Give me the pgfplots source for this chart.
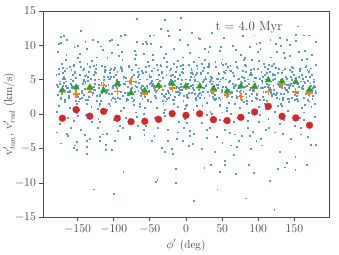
\documentclass[border=0pt]{standalone}
\usepackage{pgfplots}
\pgfplotsset{compat=1.18}
\usepackage{pgfplotstable}
\definecolor{cblue}{HTML}{1F77B4}
\definecolor{corange}{HTML}{FF7F0E}
\definecolor{cgreen}{HTML}{2CA02C}
\definecolor{cred}{HTML}{D62728}
\definecolor{txt}{HTML}{404040}

\pgfplotstableread[row sep=\\]{
x y\\
-179.6 4.3\\ -171.3 6.8\\ -176.9 1.2\\ -173.8 3.6\\ -178.2 9.1\\ -170.5 5.2\\ -175.4 -1.4\\ -177.7 2.9\\ -172.6 7.4\\ -174.5 4.8\\ -179.1 0.4\\ -171.9 3.1\\ -176.2 5.9\\ -173.1 2.2\\ -178.7 -2.6\\ -171.0 6.1\\ -175.8 10.3\\ -177.2 4.0\\ -172.2 3.0\\ -174.9 4.5\\ -179.8 5.8\\ -173.5 2.4\\ -176.5 6.6\\ -170.2 4.1\\
-164.7 3.9\\ -168.9 5.5\\ -162.3 2.4\\ -166.6 7.9\\ -160.8 0.9\\ -169.4 4.6\\ -164.0 -0.5\\ -167.4 6.3\\ -161.6 3.3\\ -166.0 8.6\\ -168.4 1.8\\ -160.3 5.1\\ -164.2 -3.1\\ -167.0 4.2\\ -162.9 2.7\\ -169.9 11.4\\ -165.1 6.7\\ -161.1 3.5\\ -168.0 5.2\\ -163.3 3.3\\ -166.1 4.8\\ -160.6 6.9\\ -168.6 2.1\\ -164.4 3.9\\
-157.5 5.7\\ -153.0 2.0\\ -159.7 4.4\\ -150.4 8.2\\ -155.6 -0.9\\ -153.6 3.0\\ -159.0 6.5\\ -151.7 1.5\\ -156.4 4.9\\ -154.8 9.8\\ -150.1 2.6\\ -159.3 -1.9\\ -152.5 5.3\\ -157.9 3.8\\ -155.3 7.1\\ -151.4 0.2\\ -158.1 4.1\\ -153.9 6.0\\ -156.7 4.0\\ -150.9 2.7\\ -154.1 6.2\\ -159.5 5.1\\ -152.8 3.6\\ -155.9 7.2\\
-142.0 2.8\\ -146.3 6.9\\ -143.7 4.5\\ -149.2 0.7\\ -145.0 3.4\\ -147.8 8.8\\ -140.7 5.6\\ -145.5 -2.2\\ -148.5 1.9\\ -142.4 4.7\\ -146.8 7.6\\ -144.3 3.2\\ -150.0 -0.2\\ -141.2 5.0\\ -147.1 2.3\\ -143.2 6.4\\ -145.7 12.1\\ -140.9 3.7\\ -148.8 3.0\\ -142.7 4.5\\ -147.6 5.8\\ -144.6 2.4\\ -141.5 6.6\\ -149.4 4.1\\
-139.6 4.6\\ -131.3 1.1\\ -136.9 7.3\\ -133.8 3.9\\ -138.2 5.8\\ -130.5 -1.1\\ -135.4 2.5\\ -137.7 9.5\\ -132.6 4.0\\ -134.5 6.2\\ -139.1 0.0\\ -131.9 3.3\\ -136.2 5.4\\ -133.1 -3.6\\ -138.7 2.1\\ -131.0 7.8\\ -135.8 4.9\\ -137.2 1.6\\ -132.2 5.2\\ -134.9 3.3\\ -139.8 4.8\\ -133.5 6.9\\ -136.5 2.1\\ -130.2 3.9\\
-124.7 6.6\\ -128.9 3.1\\ -122.3 0.8\\ -126.6 5.0\\ -120.8 4.3\\ -129.4 10.8\\ -124.0 2.0\\ -127.4 7.0\\ -121.6 -0.7\\ -126.0 3.6\\ -128.4 5.7\\ -120.3 1.3\\ -124.2 8.3\\ -127.0 4.4\\ -122.9 -2.0\\ -129.9 2.9\\ -125.1 6.1\\ -121.1 3.8\\ -128.0 4.0\\ -123.3 2.7\\ -126.1 6.2\\ -120.6 5.1\\ -128.6 3.6\\ -124.4 7.2\\
-117.5 4.6\\ -113.0 6.5\\ -119.7 1.5\\ -110.4 3.3\\ -115.6 9.4\\ -113.6 5.0\\ -119.0 -1.1\\ -111.7 3.2\\ -116.4 7.1\\ -114.8 4.5\\ -110.1 0.7\\ -119.3 2.8\\ -112.5 6.2\\ -117.9 2.0\\ -115.3 -2.9\\ -111.4 6.4\\ -118.1 9.9\\ -113.9 4.3\\ -116.7 3.2\\ -110.9 4.2\\ -114.1 5.5\\ -119.5 2.7\\ -112.8 6.9\\ -115.9 3.8\\
-102.0 4.2\\ -106.3 5.2\\ -103.7 2.1\\ -109.2 8.2\\ -105.0 1.2\\ -107.8 4.3\\ -100.7 -0.8\\ -105.5 6.0\\ -108.5 3.6\\ -102.4 8.9\\ -106.8 1.5\\ -104.3 5.4\\ -110.0 -2.8\\ -101.2 3.9\\ -107.1 3.0\\ -103.2 10.9\\ -105.7 6.4\\ -100.9 3.8\\ -108.8 5.5\\ -102.7 3.0\\ -107.6 5.1\\ -104.6 6.6\\ -101.5 2.4\\ -109.4 3.6\\
-99.6 5.4\\ -91.3 2.3\\ -96.9 4.1\\ -93.8 8.5\\ -98.2 -0.6\\ -90.5 3.3\\ -95.4 6.2\\ -97.7 1.8\\ -92.6 4.6\\ -94.5 10.1\\ -99.1 2.3\\ -91.9 -1.6\\ -96.2 5.0\\ -93.1 4.1\\ -98.7 6.8\\ -91.0 0.5\\ -95.8 4.4\\ -97.2 5.7\\ -92.2 4.3\\ -94.9 2.4\\ -99.8 6.5\\ -93.5 4.8\\ -96.5 3.9\\ -90.2 6.9\\
-84.7 3.1\\ -88.9 6.6\\ -82.3 4.8\\ -86.6 1.0\\ -80.8 3.1\\ -89.4 9.1\\ -84.0 5.3\\ -87.4 -1.9\\ -81.6 2.2\\ -86.0 4.4\\ -88.4 7.9\\ -80.3 2.9\\ -84.2 -0.5\\ -87.0 5.3\\ -82.9 2.0\\ -89.9 6.7\\ -85.1 11.6\\ -81.1 4.0\\ -88.0 2.7\\ -83.3 4.8\\ -86.1 5.5\\ -80.6 2.1\\ -88.6 6.3\\ -84.4 4.4\\
-77.5 4.9\\ -73.0 1.4\\ -79.7 7.0\\ -70.4 4.2\\ -75.6 5.5\\ -73.6 -0.8\\ -79.0 2.8\\ -71.7 9.2\\ -76.4 3.7\\ -74.8 6.5\\ -70.1 0.3\\ -79.3 3.0\\ -72.5 5.7\\ -77.9 -3.3\\ -75.3 2.4\\ -71.4 8.1\\ -78.1 4.6\\ -73.9 1.9\\ -76.7 5.2\\ -70.9 3.3\\ -74.1 4.8\\ -79.5 6.9\\ -72.8 2.1\\ -75.9 3.9\\
-62.0 6.3\\ -66.3 3.4\\ -63.7 1.1\\ -69.2 4.7\\ -65.0 4.6\\ -67.8 10.5\\ -60.7 2.3\\ -65.5 6.7\\ -68.5 -0.4\\ -62.4 3.9\\ -66.8 5.4\\ -64.3 1.6\\ -70.0 8.6\\ -61.2 4.1\\ -67.1 -1.7\\ -63.2 3.2\\ -65.7 5.8\\ -60.9 4.1\\ -68.8 4.0\\ -62.7 2.7\\ -67.6 6.2\\ -64.6 5.1\\ -61.5 3.6\\ -69.4 7.2\\
-59.6 4.1\\ -51.3 7.1\\ -56.9 0.9\\ -53.8 3.9\\ -58.2 8.8\\ -50.5 5.5\\ -55.4 -1.7\\ -57.7 2.6\\ -52.6 7.7\\ -54.5 5.1\\ -59.1 0.1\\ -51.9 3.4\\ -56.2 6.2\\ -53.1 1.9\\ -58.7 -2.3\\ -51.0 5.8\\ -55.8 10.6\\ -57.2 3.7\\ -52.2 3.3\\ -54.9 4.2\\ -59.8 6.1\\ -53.5 2.1\\ -56.5 6.9\\ -50.2 4.4\\
-44.7 3.9\\ -48.9 5.5\\ -42.3 2.4\\ -46.6 7.9\\ -40.8 0.9\\ -49.4 4.6\\ -44.0 -0.5\\ -47.4 6.3\\ -41.6 3.3\\ -46.0 8.6\\ -48.4 1.8\\ -40.3 5.1\\ -44.2 -3.1\\ -47.0 4.2\\ -42.9 2.7\\ -49.9 11.4\\ -45.1 6.7\\ -41.1 3.5\\ -48.0 4.9\\ -43.3 3.6\\ -46.1 4.5\\ -40.6 7.2\\ -48.6 1.8\\ -44.4 4.2\\
-37.5 5.7\\ -33.0 2.0\\ -39.7 4.4\\ -30.4 8.2\\ -35.6 -0.9\\ -33.6 3.0\\ -39.0 6.5\\ -31.7 1.5\\ -36.4 4.9\\ -34.8 9.8\\ -30.1 2.6\\ -39.3 -1.9\\ -32.5 5.3\\ -37.9 3.8\\ -35.3 7.1\\ -31.4 0.2\\ -38.1 4.1\\ -33.9 6.0\\ -36.7 4.0\\ -30.9 2.7\\ -34.1 6.2\\ -39.5 5.1\\ -32.8 3.6\\ -35.9 7.2\\
-22.0 2.8\\ -26.3 6.9\\ -23.7 4.5\\ -29.2 0.7\\ -25.0 3.4\\ -27.8 8.8\\ -20.7 5.6\\ -25.5 -2.2\\ -28.5 1.9\\ -22.4 4.7\\ -26.8 7.6\\ -24.3 3.2\\ -30.0 -0.2\\ -21.2 5.0\\ -27.1 2.3\\ -23.2 6.4\\ -25.7 12.1\\ -20.9 3.7\\ -28.8 3.0\\ -22.7 4.5\\ -27.6 5.8\\ -24.6 2.4\\ -21.5 6.6\\ -29.4 4.1\\
-19.6 4.6\\ -11.3 1.1\\ -16.9 7.3\\ -13.8 3.9\\ -18.2 5.8\\ -10.5 -1.1\\ -15.4 2.5\\ -17.7 9.5\\ -12.6 4.0\\ -14.5 6.2\\ -19.1 0.0\\ -11.9 3.3\\ -16.2 5.4\\ -13.1 -3.6\\ -18.7 2.1\\ -11.0 7.8\\ -15.8 4.9\\ -17.2 1.6\\ -12.2 5.2\\ -14.9 3.3\\ -19.8 4.8\\ -13.5 6.9\\ -16.5 2.1\\ -10.2 3.9\\
-4.7 6.6\\ -8.9 3.1\\ -2.3 0.8\\ -6.6 5.0\\ -0.8 4.3\\ -9.4 10.8\\ -4.0 2.0\\ -7.4 7.0\\ -1.6 -0.7\\ -6.0 3.6\\ -8.4 5.7\\ -0.3 1.3\\ -4.2 8.3\\ -7.0 4.4\\ -2.9 -2.0\\ -9.9 2.9\\ -5.1 6.1\\ -1.1 3.8\\ -8.0 4.0\\ -3.3 2.7\\ -6.1 6.2\\ -0.6 5.1\\ -8.6 3.6\\ -4.4 7.2\\
2.5 4.5\\ 7.0 6.6\\ 0.3 1.4\\ 9.6 3.8\\ 4.4 8.9\\ 6.4 5.4\\ 1.0 -1.2\\ 8.3 3.1\\ 3.6 7.2\\ 5.2 5.0\\ 9.9 0.6\\ 0.7 2.9\\ 7.5 6.1\\ 2.1 2.4\\ 4.7 -2.4\\ 8.6 5.9\\ 1.9 10.1\\ 6.1 4.2\\ 3.3 3.2\\ 9.1 4.3\\ 5.9 6.0\\ 0.5 2.6\\ 7.2 6.4\\ 4.1 3.9\\
18.0 3.6\\ 13.7 5.8\\ 16.3 2.7\\ 10.8 7.6\\ 15.0 1.2\\ 12.2 4.9\\ 19.3 -0.2\\ 14.5 6.0\\ 11.5 3.0\\ 17.6 8.3\\ 13.2 2.1\\ 15.7 4.8\\ 10.0 -2.8\\ 18.8 4.5\\ 12.9 2.4\\ 16.8 11.1\\ 14.3 7.0\\ 19.1 3.2\\ 11.2 5.5\\ 17.3 3.0\\ 12.4 5.1\\ 15.4 6.6\\ 18.5 2.4\\ 10.6 3.6\\
20.4 6.0\\ 28.7 1.7\\ 23.1 4.7\\ 26.2 7.9\\ 21.8 -1.2\\ 29.5 3.3\\ 24.6 6.8\\ 22.3 1.2\\ 27.4 5.2\\ 25.5 9.5\\ 20.9 2.9\\ 28.1 -2.2\\ 23.8 5.0\\ 26.9 4.1\\ 21.3 7.4\\ 29.0 -0.1\\ 24.2 3.8\\ 22.8 6.3\\ 27.8 4.3\\ 25.1 2.4\\ 20.2 5.9\\ 26.5 5.4\\ 23.5 3.3\\ 29.8 6.9\\
35.3 3.1\\ 31.1 7.2\\ 37.7 4.2\\ 33.4 0.4\\ 39.2 3.7\\ 30.6 9.1\\ 36.0 5.3\\ 32.6 -1.9\\ 38.4 2.2\\ 34.0 5.0\\ 31.6 7.3\\ 39.7 2.9\\ 35.8 0.1\\ 33.0 4.7\\ 37.1 2.6\\ 30.1 6.1\\ 34.9 11.8\\ 38.9 4.0\\ 32.0 2.7\\ 36.7 4.8\\ 33.9 5.5\\ 39.4 2.1\\ 31.4 6.9\\ 35.6 4.4\\
42.5 4.3\\ 47.0 1.4\\ 40.3 7.6\\ 49.6 3.6\\ 44.4 6.1\\ 46.4 -0.8\\ 41.0 2.2\\ 48.3 9.8\\ 43.6 4.3\\ 45.2 5.9\\ 49.9 0.3\\ 40.7 3.6\\ 47.5 5.1\\ 42.1 -3.3\\ 44.7 2.4\\ 48.6 7.5\\ 41.9 5.2\\ 46.1 1.3\\ 43.3 5.2\\ 49.1 3.3\\ 45.9 4.8\\ 40.5 6.9\\ 47.2 2.1\\ 44.1 3.9\\
58.0 6.9\\ 53.7 2.8\\ 56.3 0.5\\ 50.8 5.3\\ 55.0 4.0\\ 52.2 11.1\\ 59.3 1.7\\ 54.5 7.3\\ 51.5 -1.0\\ 57.6 3.3\\ 53.2 6.0\\ 55.7 1.0\\ 50.0 8.0\\ 58.8 4.7\\ 52.9 -2.3\\ 56.8 2.6\\ 54.3 6.4\\ 59.1 3.5\\ 51.2 4.0\\ 57.3 2.7\\ 52.4 6.2\\ 55.4 5.1\\ 58.5 3.6\\ 50.6 7.2\\
65.3 4.0\\ 61.1 7.0\\ 67.7 1.5\\ 63.4 3.3\\ 69.2 9.4\\ 60.6 4.9\\ 66.0 -1.1\\ 62.6 3.2\\ 68.4 7.7\\ 64.0 4.5\\ 61.6 0.1\\ 69.7 3.4\\ 65.8 5.6\\ 63.0 2.5\\ 67.1 -2.9\\ 60.1 6.4\\ 64.9 10.0\\ 68.9 4.3\\ 62.0 3.3\\ 66.7 4.2\\ 63.9 6.1\\ 69.4 2.7\\ 61.4 6.3\\ 65.6 3.8\\
72.5 3.9\\ 77.0 5.5\\ 70.3 2.4\\ 79.6 7.9\\ 74.4 0.9\\ 76.4 4.6\\ 71.0 -0.5\\ 78.3 6.3\\ 73.6 3.3\\ 75.2 8.6\\ 79.9 1.8\\ 70.7 5.1\\ 77.5 -3.1\\ 72.1 4.2\\ 74.7 2.7\\ 78.6 11.4\\ 71.9 6.7\\ 76.1 3.5\\ 73.3 5.2\\ 79.1 3.3\\ 75.9 4.8\\ 70.5 6.9\\ 77.2 2.1\\ 74.1 3.9\\
88.0 5.7\\ 83.7 2.0\\ 86.3 4.4\\ 80.8 8.2\\ 85.0 -0.9\\ 82.2 3.0\\ 89.3 6.5\\ 84.5 1.5\\ 81.5 4.9\\ 87.6 9.8\\ 83.2 2.6\\ 85.7 -1.9\\ 80.0 5.3\\ 88.8 3.8\\ 82.9 7.1\\ 86.8 0.2\\ 84.3 4.1\\ 89.1 6.0\\ 81.2 4.0\\ 87.3 2.7\\ 82.4 6.2\\ 85.4 5.1\\ 88.5 3.6\\ 80.6 7.2\\
90.4 3.0\\ 98.7 6.6\\ 93.1 4.8\\ 96.2 0.4\\ 91.8 3.6\\ 99.5 9.1\\ 94.6 5.3\\ 92.3 -2.5\\ 97.4 2.2\\ 95.5 4.4\\ 90.9 7.9\\ 98.1 2.9\\ 93.8 0.1\\ 96.9 5.3\\ 91.3 2.0\\ 99.0 6.7\\ 94.2 11.5\\ 92.8 3.4\\ 97.8 3.0\\ 95.1 4.5\\ 90.2 5.8\\ 96.5 2.4\\ 93.5 6.6\\ 99.8 4.1\\
105.3 4.6\\ 101.1 1.1\\ 107.7 7.3\\ 103.4 3.9\\ 109.2 5.8\\ 100.6 -1.1\\ 106.0 2.5\\ 102.6 9.5\\ 108.4 4.0\\ 104.0 6.2\\ 101.6 0.0\\ 109.7 3.3\\ 105.8 5.4\\ 103.0 -3.6\\ 107.1 2.1\\ 100.1 7.8\\ 104.9 4.9\\ 108.9 1.6\\ 102.0 5.2\\ 106.7 3.3\\ 103.9 4.8\\ 109.4 6.9\\ 101.4 2.1\\ 105.6 3.9\\
112.5 6.6\\ 117.0 3.1\\ 110.3 0.8\\ 119.6 5.0\\ 114.4 4.3\\ 116.4 10.8\\ 111.0 2.0\\ 118.3 7.0\\ 113.6 -0.7\\ 115.2 3.6\\ 119.9 5.7\\ 110.7 1.3\\ 117.5 8.3\\ 112.1 4.4\\ 114.7 -2.0\\ 118.6 2.9\\ 111.9 6.1\\ 116.1 3.8\\ 113.3 4.0\\ 119.1 2.7\\ 115.9 6.2\\ 110.5 5.1\\ 117.2 3.6\\ 114.1 7.2\\
128.0 4.3\\ 123.7 6.8\\ 126.3 1.2\\ 120.8 3.6\\ 125.0 9.1\\ 122.2 5.2\\ 129.3 -1.4\\ 124.5 2.9\\ 121.5 7.4\\ 127.6 4.8\\ 123.2 0.4\\ 125.7 3.1\\ 120.0 5.9\\ 128.8 2.2\\ 122.9 -2.6\\ 126.8 6.1\\ 124.3 10.3\\ 129.1 4.0\\ 121.2 3.0\\ 127.3 4.5\\ 122.4 5.8\\ 125.4 2.4\\ 128.5 6.6\\ 120.6 4.1\\
130.4 4.2\\ 138.7 5.2\\ 133.1 2.1\\ 136.2 8.2\\ 131.8 1.2\\ 139.5 4.3\\ 134.6 -0.8\\ 132.3 6.0\\ 137.4 3.6\\ 135.5 8.9\\ 130.9 1.5\\ 138.1 5.4\\ 133.8 -2.8\\ 136.9 3.9\\ 131.3 3.0\\ 139.0 10.9\\ 134.2 6.4\\ 132.8 3.8\\ 137.8 5.5\\ 135.1 3.0\\ 130.2 5.1\\ 136.5 6.6\\ 133.5 2.4\\ 139.8 3.6\\
145.3 5.4\\ 141.1 2.3\\ 147.7 4.1\\ 143.4 8.5\\ 149.2 -0.6\\ 140.6 3.3\\ 146.0 6.2\\ 142.6 1.8\\ 148.4 4.6\\ 144.0 10.1\\ 141.6 2.3\\ 149.7 -1.6\\ 145.8 5.0\\ 143.0 4.1\\ 147.1 6.8\\ 140.1 0.5\\ 144.9 4.4\\ 148.9 5.7\\ 142.0 4.3\\ 146.7 2.4\\ 143.9 6.5\\ 149.4 4.8\\ 141.4 3.9\\ 145.6 6.9\\
152.5 3.1\\ 157.0 6.6\\ 150.3 4.8\\ 159.6 1.0\\ 154.4 3.1\\ 156.4 9.1\\ 151.0 5.3\\ 158.3 -1.9\\ 153.6 2.2\\ 155.2 4.4\\ 159.9 7.9\\ 150.7 2.9\\ 157.5 -0.5\\ 152.1 5.3\\ 154.7 2.0\\ 158.6 6.7\\ 151.9 11.6\\ 156.1 4.0\\ 153.3 2.7\\ 159.1 4.8\\ 155.9 5.5\\ 150.5 2.1\\ 157.2 6.3\\ 154.1 4.4\\
168.0 4.9\\ 163.7 1.4\\ 166.3 7.0\\ 160.8 4.2\\ 165.0 5.5\\ 162.2 -0.8\\ 169.3 2.8\\ 164.5 9.2\\ 161.5 3.7\\ 167.6 6.5\\ 163.2 0.3\\ 165.7 3.0\\ 160.0 5.7\\ 168.8 -3.3\\ 162.9 2.4\\ 166.8 8.1\\ 164.3 4.6\\ 169.1 1.9\\ 161.2 5.2\\ 167.3 3.3\\ 162.4 4.8\\ 165.4 6.9\\ 168.5 2.1\\ 160.6 3.9\\
170.4 6.3\\ 178.7 3.4\\ 173.1 1.1\\ 176.2 4.7\\ 171.8 4.6\\ 179.5 10.5\\ 174.6 2.3\\ 172.3 6.7\\ 177.4 -0.4\\ 175.5 3.9\\ 170.9 5.4\\ 178.1 1.6\\ 173.8 8.6\\ 176.9 4.1\\ 171.3 -1.7\\ 179.0 3.2\\ 174.2 5.8\\ 172.8 4.1\\ 177.8 4.0\\ 175.1 2.7\\ 170.2 6.2\\ 176.5 5.1\\ 173.5 3.6\\ 179.8 7.2\\
-68 13.9\\ -7 14.0\\ -29 13.8\\ -35 12.5\\ -9 12.3\\ 8 11.9\\ -45 11.5\\ 154 12.8\\ 170 11.5\\
-173.5 11.3\\ -173.5 10.4\\ -165 10.8\\ -139.6 10.5\\ -122 10.5\\ -91 11.4\\ -84 11.5\\ -150 10.0\\ -106 10.7\\
-60 10.3\\ -55 10.3\\ -49 10.2\\ -24 11.4\\ 19 11.0\\ 33 9.8\\ 47 9.2\\ 97 10.3\\ 102 10.4\\ 131 10.0\\ 152 10.7\\ 163 11.5\\ 130 11.1\\
-173 -4.2\\ -152 -4.0\\ -154 -4.5\\ -151 -5.1\\ -155 -4.9\\ -137 -3.8\\ -137 -4.7\\ -137 -5.7\\ -119 -3.9\\ -111 -4.4\\ -111 -5.1\\ -99 -3.8\\ -103 -5.1\\ -87 -8.4\\ -128 -10.9\\ -100 -11.5\\
-48 -3.9\\ -34 -4.9\\ -29 -5.4\\ -18 -5.7\\ -26 -3.9\\ -20 -5.0\\ -5 -3.9\\ -15 -7.9\\ -40 -9.5\\ -42 -9.8\\ -15 -9.9\\
4 -4.6\\ 9 -4.3\\ 21 -5.0\\ 40 -5.4\\ 50 -4.1\\ 70 -4.7\\ 73 -3.8\\ 62 -4.5\\ 90 -5.0\\ 97 -3.8\\ 105 -4.5\\ 130 -5.4\\ 173 -4.4\\ 179 -4.4\\
53 -6.8\\ 53 -7.3\\ 34 -7.3\\ 25 -7.8\\ 46 -8.3\\ 69 -8.7\\ 87 -7.3\\ 93 -8.5\\ 66 -5.9\\ 127 -7.9\\ 136 -7.7\\ 139 -7.0\\ 151 -6.2\\ 151 -8.1\\ 167 -7.3\\ 116 -9.7\\ 43 -10.9\\ 11 -12.5\\ 82 -12.2\\ 122 -13.9\\
-165 -2.8\\ -120 -3.2\\ -95 -2.4\\ -58 -3.0\\ -12 -2.6\\ 28 -3.4\\ 60 -2.7\\ 88 -3.1\\ 110 -2.3\\ 145 -3.5\\ 158 -2.9\\ -140 -3.0\\ -78 -3.5\\ 5 -3.1\\
}\stars

\pgfplotstableread[row sep=\\]{
x red orange green\\
-171 -0.60 3.40 3.45\\
-152 0.65 2.92 3.88\\
-133 -0.30 3.60 3.88\\
-114 0.40 4.13 3.45\\
-95 -0.60 3.30 4.42\\
-76 -1.09 4.75 3.07\\
-57 -1.04 2.92 3.40\\
-38 -0.75 4.10 4.13\\
-19 0.07 3.80 4.42\\
0 -0.17 4.00 4.03\\
19 0.07 3.90 4.03\\
38 -0.80 3.30 3.70\\
57 -0.94 2.83 3.30\\
76 -0.46 2.58 4.03\\
95 0.32 3.70 4.03\\
114 1.13 3.30 4.95\\
133 -0.32 4.28 4.75\\
152 -0.55 3.22 4.67\\
171 -1.62 3.07 3.55\\
}\bins

\begin{document}
\begin{tikzpicture}[x=1bp,y=1bp]
\begin{axis}[
  scale only axis,
  width=287bp, height=207bp,
  xmin=-198, xmax=198, ymin=-15, ymax=15,
  xtick={-150,-100,-50,0,50,100,150},
  ytick={-15,-10,-5,0,5,10,15},
  tick align=outside,
  xtick pos=bottom, ytick pos=left,
  major tick length=3.5bp,
  axis line style={black!70, line width=0.8pt},
  every tick/.style={black!70, line width=0.8pt},
  tick label style={font=\fontsize{11.5}{12}\selectfont, text=txt},
  xlabel={$\phi'$ (deg)},
  ylabel={v$'_{tan}$, v$'_{rad}$ (km/s)},
  label style={font=\fontsize{11.5}{12}\selectfont, text=txt},
  xlabel style={at={(axis description cs:0.5,-0.135)}, anchor=center},
  ylabel style={at={(axis description cs:-0.118,0.5)}, anchor=center},
  clip=true,
]
\addplot[cblue!75, only marks, mark=square*, mark size=0.45bp, mark options={draw=cblue!75, fill=cblue!75, line width=0.15pt}] table[x=x,y=y] {\stars};
\addplot[cred, only marks, mark=*, mark size=3.5bp, mark options={draw=cred, fill=cred, line width=0.2pt}] table[x=x,y=red] {\bins};
\addplot[corange, only marks, mark=+, mark size=3.6bp, mark options={draw=corange, line width=1.4pt}] table[x=x,y=orange] {\bins};
\addplot[cgreen, only marks, mark=triangle*, mark size=3.9bp, mark options={draw=cgreen, fill=cgreen, line width=0.2pt}] table[x=x,y=green] {\bins};
\node[font=\fontsize{13}{14}\selectfont, text=txt] at (rel axis cs:0.72,0.92) {t = 4.0 Myr};
\end{axis}
\path ([shift={(-42bp,-37bp)}]current axis.south west) rectangle ([shift={(10bp,11bp)}]current axis.north east);
\end{tikzpicture}
\end{document}
